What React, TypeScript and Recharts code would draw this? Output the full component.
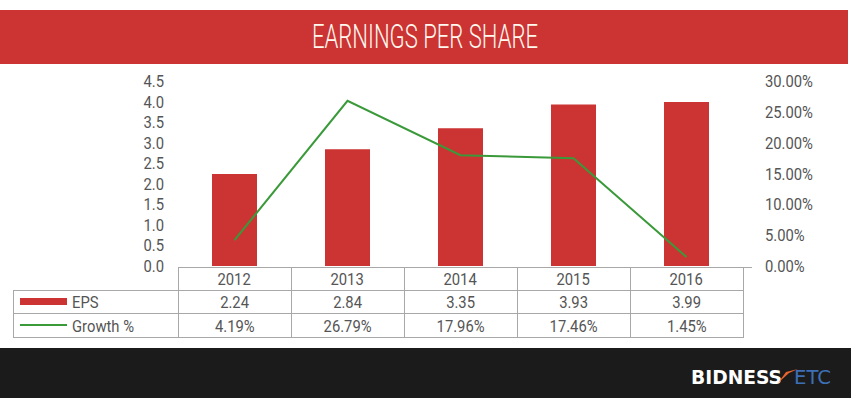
import React from 'react';
import { ComposedChart, Bar, Line, XAxis, YAxis } from 'recharts';

const years = ['2012', '2013', '2014', '2015', '2016'];
const eps = [2.24, 2.84, 3.35, 3.93, 3.99];
const growth = [4.19, 26.79, 17.96, 17.46, 1.45];
const epsLabels = ['2.24', '2.84', '3.35', '3.93', '3.99'];
const growthLabels = ['4.19%', '26.79%', '17.96%', '17.46%', '1.45%'];
const epsTicks = [0, 0.5, 1, 1.5, 2, 2.5, 3, 3.5, 4, 4.5];
const growthTicks = [0, 5, 10, 15, 20, 25, 30];

const data = years.map((y, i) => ({ year: y, eps: eps[i], growth: growth[i] }));

const RED = '#cc3333';
const GREEN = '#3a9a3a';
const TEXT = '#555555';
const BORDER = '#a8a8a8';
const FONT = "Roboto, sans-serif";
const SX = 0.87;
const FS = 17;

const PLOT_L = 178;
const PLOT_R = 743;
const COL_W = (PLOT_R - PLOT_L) / years.length;
const ROW_Y = [267, 290, 313, 337];
const TABLE_L = 13;

const NarrowTick = (props: any) => {
  const { x, y, payload, textAnchor, fmt } = props;
  return (
    <text transform={`translate(${x},${y}) scale(${SX},1)`} x={0} y={0} dy="0.355em" textAnchor={textAnchor}
      fill={TEXT} fontFamily={FONT} fontSize={FS}>{fmt(payload.value)}</text>
  );
};

const Narrow = ({ children }: { children: React.ReactNode }) => (
  <span style={{ display: 'inline-block', transform: `scaleX(${SX})`, whiteSpace: 'nowrap' }}>{children}</span>
);

export default function App() {
  const cells: React.ReactNode[] = [];
  cells.push(<div key="h0" style={{ position: 'absolute', left: PLOT_L, top: ROW_Y[0], width: PLOT_R - PLOT_L + 9, height: 1, background: BORDER }} />);
  for (let r = 1; r < 4; r++) {
    cells.push(<div key={'h' + r} style={{ position: 'absolute', left: TABLE_L, top: ROW_Y[r], width: PLOT_R - TABLE_L + 1, height: 1, background: BORDER }} />);
  }
  cells.push(<div key="vl" style={{ position: 'absolute', left: TABLE_L, top: ROW_Y[1], width: 1, height: ROW_Y[3] - ROW_Y[1], background: BORDER }} />);
  for (let c = 0; c <= years.length; c++) {
    cells.push(<div key={'v' + c} style={{ position: 'absolute', left: Math.round(PLOT_L + c * COL_W), top: ROW_Y[0], width: 1, height: ROW_Y[3] - ROW_Y[0], background: BORDER }} />);
  }
  const rows = [years, epsLabels, growthLabels];
  rows.forEach((row, r) => {
    row.forEach((txt, c) => {
      cells.push(
        <div key={'t' + r + '-' + c} style={{ position: 'absolute', left: PLOT_L + c * COL_W, top: ROW_Y[r] + 1, width: COL_W, height: ROW_Y[r + 1] - ROW_Y[r], lineHeight: (ROW_Y[r + 1] - ROW_Y[r]) + 'px', textAlign: 'center', fontFamily: FONT, fontSize: FS, color: TEXT }}><Narrow>{txt}</Narrow></div>
      );
    });
  });

  return (
    <div style={{ position: 'absolute', left: 0, top: 0, width: 851, height: 398, background: '#ffffff', overflow: 'hidden' }}>
      <svg width={851} height={70} style={{ position: 'absolute', left: 0, top: 0 }}>
        <rect x={0} y={10} width={848} height={54} fill={RED} />
        <text x={425} y={48} textAnchor="middle" fill="#fff8ef" fontFamily="Roboto, sans-serif" fontWeight={300} fontSize={34} textLength={226} lengthAdjust="spacingAndGlyphs">EARNINGS PER SHARE</text>
      </svg>
      <div style={{ position: 'absolute', left: 0, top: 0 }}>
        <ComposedChart width={851} height={398} data={data} margin={{ top: 81, right: 0, bottom: 132, left: 0 }}>
          <XAxis dataKey="year" hide />
          <YAxis yAxisId="left" orientation="left" width={PLOT_L} domain={[0, 4.5]} ticks={epsTicks} interval={0}
            axisLine={false} tickLine={false} tickSize={0} tickMargin={14}
            tick={<NarrowTick fmt={(v: number) => v.toFixed(1)} />} />
          <YAxis yAxisId="right" orientation="right" width={851 - PLOT_R} domain={[0, 30]} ticks={growthTicks} interval={0}
            axisLine={false} tickLine={false} tickSize={0} tickMargin={22}
            tick={<NarrowTick fmt={(v: number) => v.toFixed(2) + '%'} />} />
          <Bar yAxisId="left" dataKey="eps" fill={RED} barSize={45} isAnimationActive={false} />
          <Line yAxisId="right" dataKey="growth" stroke={GREEN} strokeWidth={2} dot={false} type="linear" isAnimationActive={false} />
        </ComposedChart>
      </div>
      {cells}
      <div style={{ position: 'absolute', left: 20, top: 298, width: 47, height: 7, background: RED }} />
      <div style={{ position: 'absolute', left: 72, top: ROW_Y[1] + 1, height: 23, lineHeight: '23px', fontFamily: FONT, fontSize: FS, color: TEXT, transformOrigin: 'left center', transform: `scaleX(${SX})`, whiteSpace: 'nowrap' }}>EPS</div>
      <div style={{ position: 'absolute', left: 20, top: 324, width: 47, height: 2, background: GREEN }} />
      <div style={{ position: 'absolute', left: 72, top: ROW_Y[2] + 1, height: 24, lineHeight: '24px', fontFamily: FONT, fontSize: FS, color: TEXT, transformOrigin: 'left center', transform: `scaleX(${SX})`, whiteSpace: 'nowrap' }}>Growth %</div>
      <svg width={851} height={50} style={{ position: 'absolute', left: 0, top: 348 }}>
        <rect x={0} y={0} width={851} height={50} fill="#1b1b1b" />
        <text x={691} y={36} fill="#ffffff" fontFamily="'DejaVu Sans', sans-serif" fontWeight={700} fontSize={19} textLength={91} lengthAdjust="spacingAndGlyphs">BIDNESS</text>
        <path d="M778 35 L786 24 L798 21 L789 25 Z" fill="#e8642c" />
        <text x={794} y={36} fill="#3d6fb6" fontFamily="'DejaVu Sans', sans-serif" fontWeight={400} fontSize={19} textLength={37} lengthAdjust="spacingAndGlyphs">ETC</text>
      </svg>
    </div>
  );
}
